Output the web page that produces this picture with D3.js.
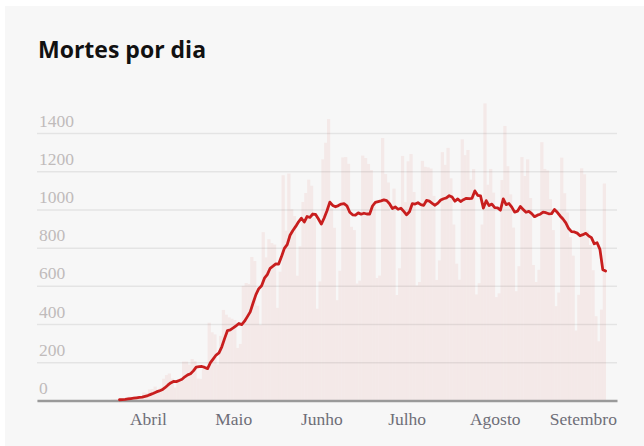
<!DOCTYPE html>
<html>
<head>
<meta charset="utf-8">
<script src="https://cdn.jsdelivr.net/npm/d3@7"></script>
<style>
  body { margin: 0; background: #fff; }
  svg { display: block; }
</style>
</head>
<body>
<svg width="644" height="446"></svg>
<script>
// mortes diarias, a partir de 17 de marco de 2020
var deathsMar = [1,3,2,5,7,7,9,12,11,20,15,22,22,23,42]
var deathsApr = [40,58,60,73,54,67,114,133,141,115, 68,99,105,204,204,188,217,206,115,113,
                 166,165,407,357,346,189,338,474,449,435]
var deathsMay = [428,421,275,296,600,615,610,751,730,496, 396,881,749,844,824,816,485,674,1179,888,
                 1188,1001,965,653,807,1039,1086,1156,1124,956, 480]
var deathsJun = [623,1262,1349,1473,1005,904,525,679,1272,1274, 1239,909,892,612,627,1282,1269,1238,1206,1022,
                 641,654,1374,1185,1141,990,1109,552,692,1280]
var deathsJul = [1038,1252,1290,1091,602,620,1254,1223,1220,1214, 1071,631,733,1300,1233,1322,1163,921,716,632,
                 1367,1284,1311,1156,1211,555,614,921,1555,1129, 1212]
var deathsAug = [1088,541,561,1154,1437,1226,1079,905,572,703, 1274,1175,1262,1060,709,620,684,1352,1212,1204,
                 1054,892,494,565,1271,1085,984,855,758,366, 553]
var deathsSep = [1215,1184,888,814,682,441,310,476,1136]

// media movel de 7 dias, a partir de 22 de marco
var avgMar = [4,5,6,8,10,12,14,16,18,22]
var avgApr = [26,32,38,45,50,56,67,80,92,100, 99,105,111,124,134,140,155,175,177,178,
              173,167,198,218,238,249,281,325,366,370]
var avgMay = [380,391,403,397,415,439,464,510,554,585, 600,640,659,692,703,715,714,753,796,816,
              865,890,911,935,954,934,963,958,976,974, 950]
var avgJun = [923,955,993,1038,1021,1014,1020,1028,1030,1019, 985,972,970,982,975,980,976,976,1018,1037,
              1041,1045,1050,1046,1030,1005,1013,1001,1006,990]
var avgJul = [972,988,1030,1028,1035,1025,1021,1047,1043,1032, 1022,1033,1049,1056,1060,1072,1065,1043,1055,1041,
              1051,1058,1056,1058,1097,1074,1071,1007,1046,1020, 1028]
var avgAug = [1010,1008,996,1055,1025,1031,1012,986,991,1015, 1000,985,990,978,962,970,975,986,983,977,
              978,1000,985,966,950,930,900,884,882,876, 862]
var avgSep = [868,875,862,852,820,826,791,685,678]

var monthLabels = ["Abril","Maio","Junho","Julho","Agosto","Setembro"]
var monthDates = ["2020-04-01","2020-05-01","2020-06-01","2020-07-01","2020-08-01","2020-09-01"]
var yTicks = [0,200,400,600,800,1000,1200,1400]

var parse = d3.utcParse("%Y-%m-%d")
var deaths = [].concat(deathsMar, deathsApr, deathsMay, deathsJun, deathsJul, deathsAug, deathsSep)
  .map((v, i) => ({ date: d3.utcDay.offset(parse("2020-03-17"), i), v: v }))
var avg = [].concat(avgMar, avgApr, avgMay, avgJun, avgJul, avgAug, avgSep)
  .map((v, i) => ({ date: d3.utcDay.offset(parse("2020-03-22"), i), v: v }))

var svg = d3.select("svg")

svg.append("rect")
  .attr("x", 5).attr("y", 6).attr("width", 639).attr("height", 440)
  .style("fill", "#f7f7f7")

svg.append("text")
  .attr("x", 38).attr("y", 58)
  .text("Mortes por dia")
  .style("font-family", "'Open Sans', sans-serif")
  .style("font-weight", 700).style("font-size", "23px").style("fill", "#111")

var xScale = d3.scaleUtc()
  .domain([parse("2020-02-22"), parse("2020-09-13")]).range([37, 617])

var yScale = d3.scaleLinear()
  .domain([0, 1400]).range([400.5, 133])

// barras diarias
svg.append("g")
  .selectAll("rect")
  .data(deaths).enter()
  .append("rect")
  .attr("x", d => xScale(d3.utcDay.offset(d.date, -1)))
  .attr("width", d => xScale(d.date) - xScale(d3.utcDay.offset(d.date, -1)) + 0.4)
  .attr("y", d => yScale(d.v))
  .attr("height", d => yScale(0) - yScale(d.v))
  .style("fill", "#f4e9e8")

// grade + rotulos do eixo y
var yAxis = d3.axisRight(yScale).tickValues(yTicks).tickFormat(d3.format("d")).tickSize(580)
var gy = svg.append("g").attr("transform", "translate(37,0)").call(yAxis)
gy.select(".domain").remove()
gy.selectAll(".tick line").style("stroke", "rgba(0,0,0,0.075)").style("stroke-width", 1.5)
gy.selectAll(".tick text")
  .attr("x", 2).attr("y", -7).attr("dy", null)
  .style("text-anchor", "start")
  .style("font-family", "'Liberation Serif', serif").style("font-size", "17.5px")
  .style("fill", "#c0bbbb")

// eixo x
var xAxis = d3.axisBottom(xScale)
  .tickValues(monthDates.map(parse))
  .tickFormat((d, i) => monthLabels[i])
  .tickSize(0).tickSizeOuter(0)
var gx = svg.append("g").attr("transform", "translate(0,400.5)").call(xAxis)
gx.select(".domain").style("stroke", "#9a9a9a").style("stroke-width", 2.5)
gx.selectAll(".tick text")
  .attr("y", 24.5).attr("dy", null)
  .style("font-family", "'Liberation Serif', serif").style("font-size", "17.5px")
  .style("fill", "#6e6e78")

// media movel
var line = d3.line()
  .x(d => xScale(d.date))
  .y(d => yScale(d.v))

svg.append("path")
  .datum(avg)
  .attr("d", line)
  .style("fill", "none").style("stroke", "#c81e1e")
  .style("stroke-width", 2.8).style("stroke-linejoin", "round").style("stroke-linecap", "round")
</script>
</body>
</html>
